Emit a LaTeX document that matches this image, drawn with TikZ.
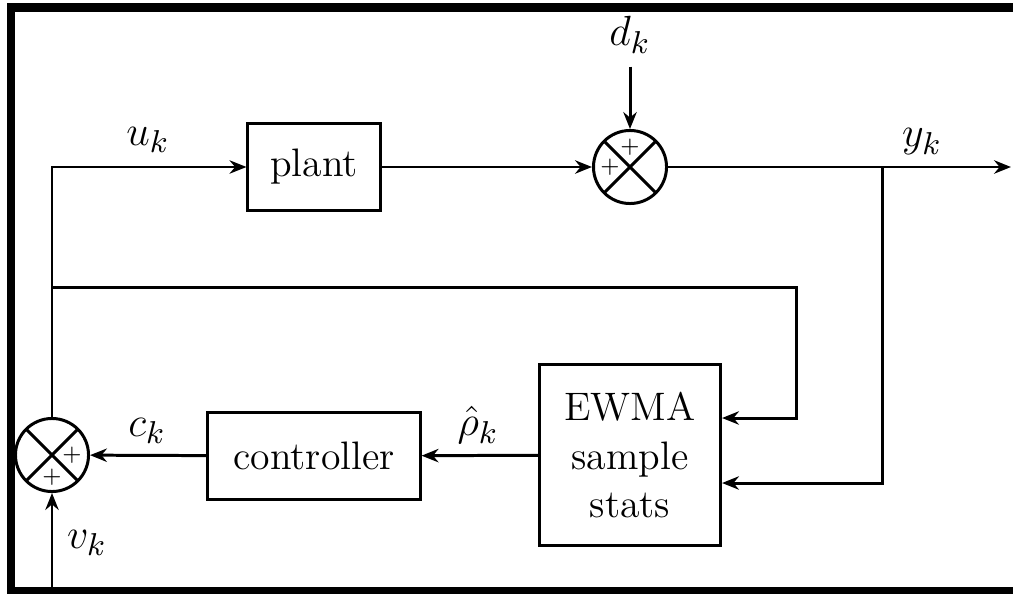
\documentclass[tikz,border=0pt]{standalone}
\usepackage{amsmath}
\usetikzlibrary{arrows.meta,positioning,calc}

\begin{document}
\begin{tikzpicture}[
  x=0.01cm, y=-0.01cm,
  >={Stealth[length=4.8pt,width=3.8pt]},
  font=\fontsize{12}{13.5}\selectfont,
  line width=0.85pt,
  block/.style={draw, align=center, inner sep=2pt, font=\rmfamily\fontsize{11.3}{13.8}\selectfont},
  sumnode/.style={draw, circle, minimum size=0.73cm, inner sep=0pt,
    path picture={\draw (path picture bounding box.north west) -- (path picture bounding box.south east)
      (path picture bounding box.north east) -- (path picture bounding box.south west);}},
  pluslbl/.style={font=\fontsize{6}{7}\selectfont, inner sep=0pt},
  lbl/.style={inner sep=0pt, font=\fontsize{12.5}{14}\selectfont},
  arr/.style={->},
]
\useasboundingbox (0,0) rectangle (1013,594);

% Frame bars
\fill (7,3) rectangle (1013,12);
\fill (7,3) rectangle (15,594);
\fill (7,587) rectangle (1013,594);

% Blocks
\node[block, minimum width=1.32cm, minimum height=0.87cm] (plant) at (314,167) {plant};
\node[block, minimum width=2.12cm, minimum height=0.87cm] (ctrl) at (314,456) {controller};
\node[block, minimum width=1.81cm, minimum height=1.80cm] (ewma) at (630,455) {EWMA\\sample\\stats};

% Summing junctions
\node[sumnode] (sumtop) at (630,167) {};
\node[pluslbl] at ($(sumtop)+(0,-20)$) {$+$};
\node[pluslbl] at ($(sumtop)+(-20,0)$) {$+$};
\node[sumnode] (sumbot) at (52,455) {};
\node[pluslbl] at ($(sumbot)+(20,0)$) {$+$};
\node[pluslbl] at ($(sumbot)+(0,22)$) {$+$};

% Signals
\node[font=\fontsize{12.5}{14}\selectfont] (dk) at (630,35) {$d_k$};
\coordinate (yout) at (1011,167);
\coordinate (br) at (882,167);
\coordinate (fb) at (52,287);
\coordinate (fbr) at (796,287);
\coordinate (ein1) at ($(ewma.east)+(0,-37)$);
\coordinate (ein2) at ($(ewma.east)+(0,28)$);
\coordinate (vin) at (52,587);

% Labels
\node[lbl] at (148,140) {$u_k$};
\node[lbl] at (922,142) {$y_k$};
\node[lbl] at (147,431) {$c_k$};
\node[lbl] at (478,425) {$\hat{\rho}_k$};
\node[lbl] at (87,543) {$v_k$};

% Arrows
\draw[arr] (sumbot.north) |- (plant.west);
\draw[arr] (plant) -- (sumtop);
\draw[arr] (dk.south) -- (sumtop.north);
\draw[arr] (sumtop) -- (yout);
\draw[arr] (br) |- (ein2);
\draw[arr] (fb) -- (fbr) |- (ein1);
\draw[arr] (ewma) -- (ctrl);
\draw[arr] (ctrl) -- (sumbot);
\draw[arr] (vin) -- (sumbot);
\end{tikzpicture}
\end{document}
